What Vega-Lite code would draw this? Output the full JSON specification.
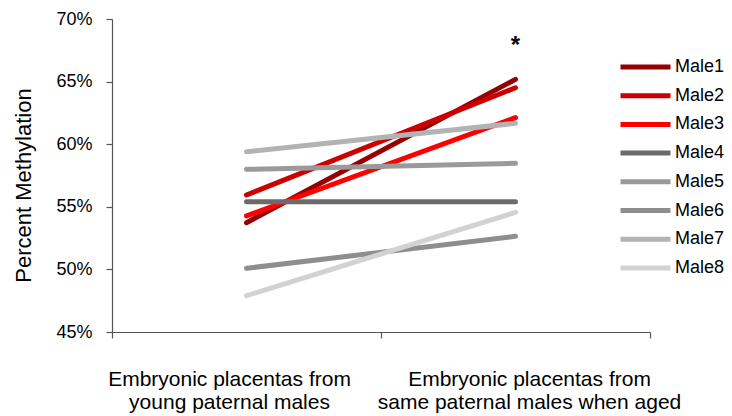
{
  "$schema": "https://vega.github.io/schema/vega-lite/v6.json",
  "width": 538,
  "height": 313,
  "autosize": {"type": "none"},
  "padding": {"left": 112, "top": 19, "right": 82, "bottom": 84},
  "config": {
    "view": {"stroke": null},
    "font": "Liberation Sans",
    "axis": {"domainColor": "#555555", "tickColor": "#555555", "labelColor": "#000000", "titleColor": "#000000", "grid": false, "domainWidth": 1.2, "tickWidth": 1.2}
  },
  "datasets": {
    "lines": [
      {"male": "Male1", "group": "young", "pct": 0.5373},
      {"male": "Male1", "group": "aged", "pct": 0.6518},
      {"male": "Male2", "group": "young", "pct": 0.5594},
      {"male": "Male2", "group": "aged", "pct": 0.6451},
      {"male": "Male3", "group": "young", "pct": 0.5427},
      {"male": "Male3", "group": "aged", "pct": 0.6212},
      {"male": "Male4", "group": "young", "pct": 0.5541},
      {"male": "Male4", "group": "aged", "pct": 0.5541},
      {"male": "Male5", "group": "young", "pct": 0.5799},
      {"male": "Male5", "group": "aged", "pct": 0.5847},
      {"male": "Male6", "group": "young", "pct": 0.5009},
      {"male": "Male6", "group": "aged", "pct": 0.5264},
      {"male": "Male7", "group": "young", "pct": 0.5940},
      {"male": "Male7", "group": "aged", "pct": 0.6167},
      {"male": "Male8", "group": "young", "pct": 0.4790},
      {"male": "Male8", "group": "aged", "pct": 0.5456}
    ],
    "annot": [
      {"group": "aged", "pct": 0.6725, "label": "*"}
    ]
  },
  "resolve": {"axis": {"x": "independent"}},
  "layer": [
    {
      "data": {"name": "lines"},
      "mark": {"type": "line", "strokeWidth": 5, "strokeCap": "round"},
      "encoding": {
        "x": {
          "field": "group",
          "type": "nominal",
          "sort": ["young", "aged"],
          "bandPosition": 0.5,
          "scale": {"type": "band", "paddingInner": 0, "paddingOuter": 0},
          "axis": {
            "orient": "bottom",
            "title": null,
            "labelAngle": 0,
            "labelExpr": "datum.value == 'young' ? ['Embryonic placentas from', 'young paternal males'] : ['Embryonic placentas from', 'same paternal males when aged']",
            "labelFontSize": 21,
            "labelLineHeight": 23,
            "labelBaseline": "top",
            "labelPadding": 36,
            "labelLimit": 400,
            "labelOverlap": false,
            "labelOffset": {"condition": {"test": "datum.value == 'young'", "value": -17}, "value": 14},
            "ticks": false,
            "domain": false
          }
        },
        "y": {
          "field": "pct",
          "type": "quantitative",
          "scale": {"domain": [0.45, 0.70], "nice": false, "zero": false},
          "axis": {
            "values": [0.45, 0.5, 0.55, 0.6, 0.65, 0.7],
            "format": ".0%",
            "labelFontSize": 18,
            "labelPadding": 14,
            "tickSize": 6,
            "title": "Percent Methylation",
            "titleFontSize": 22,
            "titleFontWeight": "normal",
            "titlePadding": 20,
            "titleY": 166
          }
        },
        "color": {
          "field": "male",
          "type": "nominal",
          "scale": {
            "domain": ["Male1", "Male2", "Male3", "Male4", "Male5", "Male6", "Male7", "Male8"],
            "range": ["#960000", "#CC0000", "#FF0000", "#6B6B6B", "#9A9A9A", "#8E8E8E", "#B3B3B3", "#D2D2D2"]
          },
          "legend": {
            "orient": "none",
            "legendX": 506,
            "legendY": 38,
            "title": null,
            "padding": 0,
            "symbolType": "stroke",
            "symbolSize": 2500,
            "symbolStrokeWidth": 5,
            "labelFontSize": 18,
            "labelColor": "#000000",
            "labelOffset": 2,
            "clipHeight": 20,
            "rowPadding": 8.7
          }
        }
      }
    },
    {
      "data": {"name": "annot"},
      "mark": {"type": "text", "fontWeight": "bold", "fontSize": 24, "baseline": "alphabetic"},
      "encoding": {
        "x": {
          "field": "group",
          "type": "nominal",
          "sort": ["young", "aged"],
          "bandPosition": 0.5,
          "axis": {
            "orient": "bottom",
            "title": null,
            "labels": false,
            "tickSize": 6,
            "tickBand": "extent",
            "domain": true
          }
        },
        "y": {"field": "pct", "type": "quantitative"},
        "text": {"field": "label"}
      }
    }
  ]
}
